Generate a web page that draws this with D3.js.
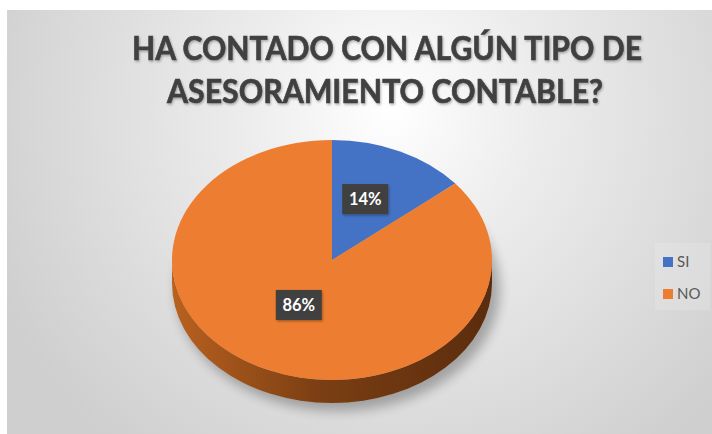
<!DOCTYPE html>
<meta charset="utf-8">
<title>Asesoramiento contable</title>
<style>
  html, body { margin: 0; padding: 0; background: #fff; }
  svg { display: block; }
</style>
<svg width="712" height="434"></svg>
<script src="https://d3js.org/d3.v7.min.js"></script>
<script>

// data
var categories = ["SI", "NO"];
var values = [14, 86];
var labels = ["14%", "86%"];
var titleLines = ["HA CONTADO CON ALGÚN TIPO DE", "ASESORAMIENTO CONTABLE?"];
var colors = ["#4472C4", "#ED7D31"];

var svg = d3.select("svg");
var width = +svg.attr("width");
var height = +svg.attr("height");

var defs = svg.append("defs");

// background gradient, bright near the title
var bg = defs.append("radialGradient")
    .attr("id", "bg")
    .attr("gradientUnits", "userSpaceOnUse")
    .attr("cx", 390).attr("cy", 110).attr("r", 430);
bg.append("stop").attr("offset", 0).attr("stop-color", "#ffffff");
bg.append("stop").attr("offset", 0.35).attr("stop-color", "#ececec");
bg.append("stop").attr("offset", 1).attr("stop-color", "#cfcfcf");

var side = defs.append("linearGradient")
    .attr("id", "side")
    .attr("x1", 0).attr("x2", 1).attr("y1", 0).attr("y2", 0);
side.append("stop").attr("offset", 0).attr("stop-color", "#b9611f");
side.append("stop").attr("offset", 0.45).attr("stop-color", "#7c3f13");
side.append("stop").attr("offset", 1).attr("stop-color", "#5a2c0d");

var blur = defs.append("filter").attr("id", "blur")
    .attr("x", "-20%").attr("y", "-20%").attr("width", "140%").attr("height", "140%");
blur.append("feGaussianBlur").attr("stdDeviation", 6);

var tshadow = defs.append("filter").attr("id", "tshadow");
tshadow.append("feDropShadow")
    .attr("dx", 1).attr("dy", 1.5).attr("stdDeviation", 1)
    .attr("flood-color", "#000").attr("flood-opacity", 0.3);

svg.append("rect")
    .attr("x", 7).attr("y", 10)
    .attr("width", width - 7).attr("height", height - 10)
    .attr("fill", "url(#bg)");

// title
svg.append("g").attr("filter", "url(#tshadow)")
    .selectAll("text")
    .data(titleLines)
    .enter()
    .append("text")
    .attr("x", function(d, i) { return i == 0 ? 387 : 385; })
    .attr("y", function(d, i) { return 60 + i * 43; })
    .attr("text-anchor", "middle")
    .attr("font-family", "Lato, 'Open Sans', sans-serif")
    .attr("font-weight", 700)
    .attr("font-size", 32)
    .attr("fill", "#404040")
    .attr("stroke", "#404040")
    .attr("stroke-width", 0.6)
    .attr("textLength", function(d, i) { return i == 0 ? 510 : 436; })
    .attr("lengthAdjust", "spacingAndGlyphs")
    .text(function(d) { return d; });

// pie
var cx = 332, cy = 260, rx = 160, ry = 120, depth = 23;

var pie = d3.pie().sort(null).value(function(d) { return d; });
var arcs = pie(values);

// outer point of the ellipse for a d3 angle (0 = 12 o'clock, clockwise)
function pt(a, dy) {
    return [cx + rx * Math.sin(a), cy + (dy || 0) - ry * Math.cos(a)];
}

// drop shadow
svg.append("ellipse")
    .attr("cx", cx + 6).attr("cy", cy + depth + 6)
    .attr("rx", rx + 2).attr("ry", ry + 2)
    .attr("fill", "#000").attr("opacity", 0.28)
    .attr("filter", "url(#blur)");

// side walls: only the lower half (angles pi/2 .. 3pi/2) can be seen
var sides = svg.append("g");
arcs.forEach(function(d, i) {
    var a0 = Math.max(d.startAngle, Math.PI / 2);
    var a1 = Math.min(d.endAngle, 3 * Math.PI / 2);
    if (a1 <= a0) return;
    var p0 = pt(a0), p1 = pt(a1), q1 = pt(a1, depth), q0 = pt(a0, depth);
    var big = (a1 - a0) > Math.PI ? 1 : 0;
    var path = "M" + p0 + " A" + rx + "," + ry + " 0 " + big + " 1 " + p1 +
        " L" + q1 + " A" + rx + "," + ry + " 0 " + big + " 0 " + q0 + " Z";
    sides.append("path")
        .attr("d", path)
        .attr("fill", i == 1 ? "url(#side)" : d3.color(colors[i]).darker(1.2));
});

// top face
var arc = d3.arc().innerRadius(0).outerRadius(rx);
svg.append("g")
    .attr("transform", "translate(" + cx + "," + cy + ") scale(1," + (ry / rx) + ")")
    .selectAll("path")
    .data(arcs)
    .enter()
    .append("path")
    .attr("d", arc)
    .attr("fill", function(d, i) { return colors[i]; });

// data labels (centroid on the tilted face, nudged up a little like Excel)
var labelPos = d3.arc().innerRadius(78).outerRadius(78);
var lab = svg.append("g")
    .selectAll("g")
    .data(arcs)
    .enter()
    .append("g")
    .attr("transform", function(d) {
        var c = labelPos.centroid(d);
        return "translate(" + (cx + c[0]) + "," + (cy + c[1] * ry / rx - 8) + ")";
    });
lab.append("rect")
    .attr("x", -23).attr("y", -15)
    .attr("width", 46).attr("height", 30)
    .attr("fill", "#3f3f3f")
    .attr("filter", "url(#tshadow)");
lab.append("text")
    .attr("text-anchor", "middle")
    .attr("dy", "0.36em")
    .attr("font-family", "Lato, 'Open Sans', sans-serif")
    .attr("font-weight", 700)
    .attr("font-size", 16.5)
    .attr("fill", "#ffffff")
    .text(function(d, i) { return labels[i]; });

// legend
svg.append("rect")
    .attr("x", 655).attr("y", 243)
    .attr("width", 55).attr("height", 67)
    .attr("fill", "#ffffff").attr("opacity", 0.15);

var legend = svg.append("g")
    .selectAll("g")
    .data(categories)
    .enter()
    .append("g")
    .attr("transform", function(d, i) { return "translate(663," + (257 + i * 32) + ")"; });
legend.append("rect")
    .attr("width", 10).attr("height", 10)
    .attr("fill", function(d, i) { return colors[i]; });
legend.append("text")
    .attr("x", 14).attr("y", 10)
    .attr("font-family", "Lato, 'Open Sans', sans-serif")
    .attr("font-size", 15)
    .attr("fill", "#595959")
    .text(function(d) { return d; });

</script>
